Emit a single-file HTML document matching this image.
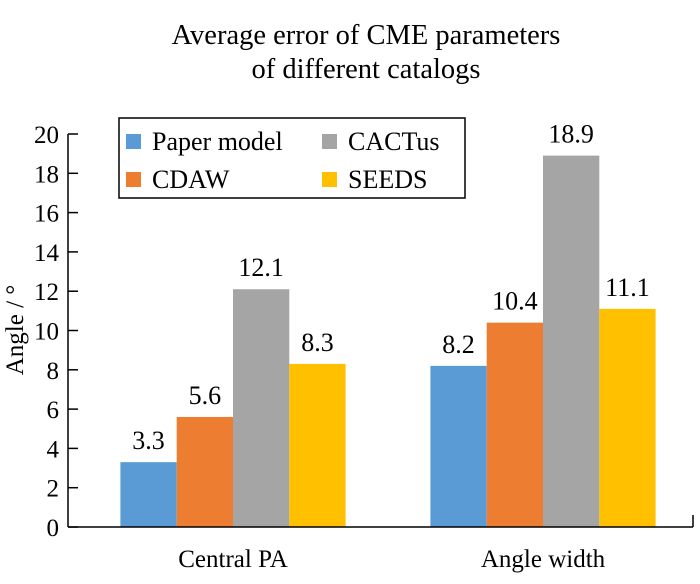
<!DOCTYPE html>
<html><head><meta charset="utf-8"><style>
body{margin:0;background:#fff}
svg text{font-family:"Liberation Serif",serif;fill:#000}
</style></head><body>
<svg width="700" height="579" xmlns="http://www.w3.org/2000/svg">
<text x="366" y="44" font-size="28.5" text-anchor="middle">Average error of CME parameters</text>
<text x="366" y="78" font-size="28.5" text-anchor="middle">of different catalogs</text>
<text transform="translate(23,330) rotate(-90)" font-size="25" text-anchor="middle">Angle / °</text>
<g id="bars"></g><g id="axes"></g>
<g>
<rect x="119" y="118" width="346" height="80" fill="#fff" stroke="#000" stroke-width="1.5"/>
<rect x="126" y="134" width="15" height="15" fill="#5b9bd5"/>
<text x="152" y="150" font-size="26">Paper model</text>
<rect x="322" y="134" width="15" height="15" fill="#a5a5a5"/>
<text x="348" y="150" font-size="26">CACTus</text>
<rect x="126" y="172" width="15" height="15" fill="#ed7d31"/>
<text x="152" y="188" font-size="26">CDAW</text>
<rect x="322" y="172" width="15" height="15" fill="#ffc000"/>
<text x="348" y="188" font-size="26">SEEDS</text>
</g>
</svg>
<script>
const categories=["Central PA","Angle width"];
const seriesNames=["Paper model","CDAW","CACTus","SEEDS"];
const paperModel=[3.3,8.2];
const cdaw=[5.6,10.4];
const cactus=[12.1,18.9];
const seeds=[8.3,11.1];
const yTicks=[0,2,4,6,8,10,12,14,16,18,20];
const series=[paperModel,cdaw,cactus,seeds];
const colors=["#5b9bd5","#ed7d31","#a5a5a5","#ffc000"];
const NS="http://www.w3.org/2000/svg";
const x0=68,x1=693,y0=527,yTop=134;
const y=v=>y0-(v-0)/20*(y0-yTop);
const catW=310, bw=56.3;
const catX=i=>78+catW*(i+0.5);
function mk(tag,attrs,parent){const e=document.createElementNS(NS,tag);for(const k in attrs)e.setAttribute(k,attrs[k]);parent.appendChild(e);return e;}
const bars=document.getElementById('bars'),axes=document.getElementById('axes');
series.forEach((s,si)=>s.forEach((v,ci)=>{
  const bx=catX(ci)-2*bw+si*bw;
  const r=mk('rect',{x:bx,y:y(v),width:bw,height:y0-y(v),fill:colors[si]},bars);
  
  
  const t=mk('text',{x:bx+bw/2,y:y(v)-13,'font-size':26,'text-anchor':'middle'},bars);
  t.textContent=v.toFixed(1);
  
  
}));
const ya=mk('line',{x1:x0,y1:yTop,x2:x0,y2:y0,stroke:'#000','stroke-width':1.5},axes);


const xa=mk('line',{x1:x0,y1:y0,x2:x1,y2:y0,stroke:'#000','stroke-width':1.5},axes);


mk('line',{x1:x1,y1:y0,x2:x1,y2:y0-12,stroke:'#000','stroke-width':1.5},axes);
yTicks.forEach(v=>{
  mk('line',{x1:x0,y1:y(v),x2:x0+10,y2:y(v),stroke:'#000','stroke-width':1.5},axes);
  const t=mk('text',{x:x0-9,y:y(v)+9,'font-size':25,'text-anchor':'end'},axes);
  t.textContent=v;
  
  
});
categories.forEach((c,i)=>{
  const t=mk('text',{x:catX(i),y:567,'font-size':25,'text-anchor':'middle'},axes);
  t.textContent=c;
  
  
});
</script>
</body></html>
